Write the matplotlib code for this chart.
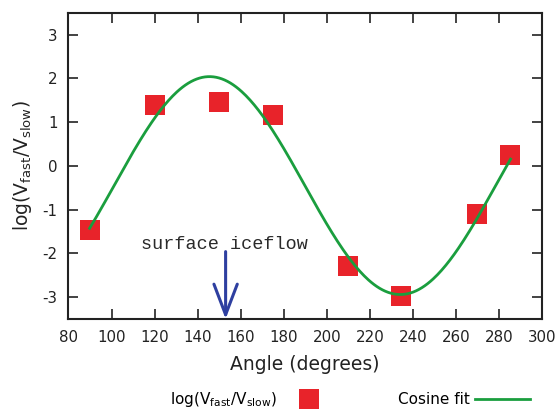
import matplotlib
matplotlib.use('Agg')
import matplotlib.pyplot as plt
import numpy as np

plt.rcParams['axes.unicode_minus'] = False

# measured points
angle = [90, 120, 150, 175, 210, 234.5, 270, 285]
log_ratio = [-1.46, 1.40, 1.47, 1.17, -2.28, -2.98, -1.10, 0.26]

# cosine fit parameters: offset + amp*cos(360/period*(x - peak))
fit_offset = -0.45
fit_amp = 2.49
fit_period = 177.3
fit_peak = 145.5
fit_range = [89.8, 285.4]

arrow_x = 153
arrow_label = 'surface iceflow'

xticks = [80, 100, 120, 140, 160, 180, 200, 220, 240, 260, 280, 300]
yticks = [-3, -2, -1, 0, 1, 2, 3]

red = '#e8232a'
green = '#1a9e3e'
blue = '#2e3fa0'

fig = plt.figure(figsize=(5.56, 4.11), dpi=100)
ax = fig.add_axes([0.1232, 0.2238, 0.8516, 0.7452])

xs = np.linspace(fit_range[0], fit_range[1], 300)
ys = fit_offset + fit_amp * np.cos(np.deg2rad(360.0 / fit_period * (xs - fit_peak)))
ax.plot(angle, log_ratio, 's', color=red, markersize=14.4, markeredgewidth=0,
        label=r'log(V$_{\rm fast}$/V$_{\rm slow}$)', zorder=2)
ax.plot(xs, ys, color=green, linewidth=2.0, label='Cosine fit', zorder=3)

ax.annotate('', xy=(arrow_x, -3.5), xytext=(arrow_x, -1.96),
            arrowprops=dict(arrowstyle='->,head_length=1.1,head_width=0.42',
                            color=blue, lw=2.2, mutation_scale=20,
                            shrinkA=0, shrinkB=0), zorder=4)
ax.text(arrow_x - 0.5, -1.8, arrow_label, family='Liberation Mono', fontsize=13.3,
        ha='center', va='center', color='#2a2a2a')

ax.set_xlim(80, 300)
ax.set_ylim(-3.5, 3.5)
ax.set_xticks(xticks)
ax.set_yticks(yticks)
ax.tick_params(direction='in', length=7, width=1.2, top=True, right=True,
               labelsize=10.8, pad=8, colors='#222222')
for s in ax.spines.values():
    s.set_linewidth(1.5)
    s.set_color('#222222')

ax.set_xlabel('Angle (degrees)', fontsize=13.5, labelpad=7, color='#222222')
ax.set_ylabel(r'log(V$_{\rm fast}$/V$_{\rm slow}$)', fontsize=13.5, labelpad=6,
              color='#222222')

fig.legend(loc='center', bbox_to_anchor=(0.6295, 0.027), ncol=2, frameon=False,
           markerfirst=False, fontsize=11, handlelength=3.6, handletextpad=0.35,
           columnspacing=4.0, numpoints=1)

fig.savefig('out.png', dpi=100)
